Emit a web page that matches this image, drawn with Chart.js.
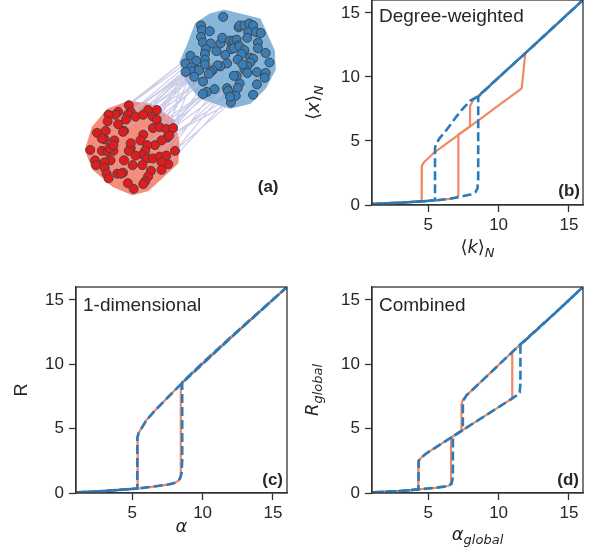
<!DOCTYPE html>
<html>
<head>
<meta charset="utf-8">
<script src="https://cdn.jsdelivr.net/npm/chart.js@4.4.1/dist/chart.umd.min.js"></script>
<style>
	body { margin: 0; background: #fff; width: 605px; height: 556px; overflow: hidden; }
	canvas { position: absolute; }
</style>
</head>
<body>
<canvas id="net" width="300" height="220" style="left:0;top:0"></canvas>
<canvas id="degree" width="305" height="280" style="left:300px;top:0"></canvas>
<canvas id="oned" width="300" height="276" style="left:0;top:280px"></canvas>
<canvas id="combined" width="305" height="276" style="left:300px;top:280px"></canvas>
<script>
// ---- panel (a): two-community network, layout positions
const redX = [128,130,127,135,117,114,107,106,117,125,123,122,95,104,103,100,113,148,143,153,157,157,153,160,167,174,168,162,170,143,140,155,147,145,142,147,153,160,167,176,169,162,162,151,148,145,143,133,127,122,116,120,132,123,130,128,130,135,142,109,103,103,105,107,93,94,88,100,106,112,108,112];
const redY = [105,112,115,117,112,115,115,122,125,120,132,133,134,132,141,140,142,110,115,117,110,120,129,128,130,129,139,142,137,136,142,147,147,153,157,161,161,159,158,153,167,165,173,174,180,185,188,193,187,176,177,177,168,163,150,153,145,158,168,163,165,171,177,182,163,168,152,153,154,153,150,147];
const blueX = [226,203,204,203,212,205,213,208,207,219,223,225,233,235,237,240,234,241,237,243,248,245,241,242,243,248,253,257,252,251,260,265,262,262,254,257,270,274,254,251,248,246,251,261,270,269,261,257,243,240,237,230,223,220,215,213,211,205,230,231,241,239,234,233,217,209,205,192,198,187,193,198,194,201,187,196,207,207,228];
const blueY = [12,21,26,33,27,39,40,46,51,48,40,34,37,42,37,36,46,42,45,43,47,51,57,23,21,21,19,21,28,34,28,29,39,45,55,56,50,60,60,64,67,62,71,70,71,76,83,94,82,74,74,61,64,63,68,70,72,80,87,90,87,95,102,96,88,91,93,53,58,61,65,68,69,68,70,75,57,62,52];
const redHullX = [128,150,173,178,177,160,147,132,113,92,85,92,107];
const redHullY = [103,106,122,143,165,181,193,197,189,171,152,129,111];
const blueHullX = [213,227,263,277,278,268,253,233,203,189,183,191,199];
const blueHullY = [11,7,16,48,67,86,101,106,96,78,60,42,20];
// [red node, blue node]
const bridges = [[0,67],[0,69],[1,74],[4,67],[3,72],[17,70],[17,75],[18,68],[19,73],[20,71],[20,76],[21,74],[21,57],[22,66],[22,55],[23,65],[23,77],[24,64],[24,72],[25,58],[25,54],[26,63],[26,69],[28,62],[28,75],[39,62],[39,58],[40,63],[38,64],[3,8],[1,7],[19,52],[22,70],[24,66],[18,57],[2,76],[9,68],[29,74],[27,65],[32,66],[36,58],[41,62],[5,69],[10,71]];

// ---- panel (b): degree-weighted
const degBlueUpK = [1, 3, 4.5, 5.5, 6.5, 7.2, 8, 8.35, 8.5, 8.55, 8.55, 10, 12, 14, 16];
const degBlueUpX = [0.08, 0.18, 0.28, 0.36, 0.48, 0.62, 0.82, 1.0, 1.3, 2.0, 8.45, 9.95, 11.95, 13.97, 16];
const degBlueDownK = [16, 12, 8.5, 8.0, 7.4, 7.0, 6.3, 5.8, 5.55, 5.48, 5.48, 4.5, 3, 1];
const degBlueDownX = [16, 11.95, 8.45, 8.15, 7.45, 6.9, 5.86, 5.2, 4.75, 4.45, 0.36, 0.28, 0.18, 0.08];
const degOrangeUpK = [1, 3, 4.5, 5.5, 6.5, 7.0, 7.14, 7.14, 8, 9, 10, 11, 11.64, 11.9, 14, 16];
const degOrangeUpX = [0.08, 0.18, 0.28, 0.36, 0.48, 0.6, 0.75, 5.5, 6.16, 6.96, 7.77, 8.58, 9.1, 11.85, 13.97, 16];
const degOrangeDownK = [16, 12, 8.5, 8.2, 7.97, 7.97, 7, 6, 5.36, 5.0, 4.7, 4.55, 4.53, 3, 1];
const degOrangeDownX = [16, 11.95, 8.45, 8.2, 7.73, 6.14, 5.36, 4.56, 4.04, 3.65, 3.35, 3.07, 0.28, 0.18, 0.08];

// ---- panel (c): 1-dimensional reduction
const oneBlueUpA = [1, 3, 5.4, 6.5, 7.5, 7.95, 8.38, 8.5, 8.55, 8.55, 10, 12, 14, 16];
const oneBlueUpR = [0.05, 0.15, 0.35, 0.5, 0.65, 0.76, 1.09, 1.5, 2.5, 8.6, 10.1, 12.1, 14.05, 16];
const oneBlueDownA = [16, 12, 8.5, 7.5, 6.7, 6.0, 5.74, 5.45, 5.36, 5.36, 3, 1];
const oneBlueDownR = [16, 12.05, 8.5, 7.4, 6.5, 5.65, 5.18, 4.66, 4.3, 0.35, 0.15, 0.05];
const oneOrangeUpA = [1, 3, 5.4, 6.5, 7.5, 7.95, 8.3, 8.45, 8.45, 8.55, 10, 12, 14, 16];
const oneOrangeUpR = [0.05, 0.15, 0.35, 0.5, 0.65, 0.76, 0.95, 1.3, 8.3, 8.6, 10.1, 12.1, 14.05, 16];
const oneOrangeDownA = [16, 12, 8.5, 7.5, 6.7, 6.0, 5.74, 5.45, 5.38, 5.38, 3, 1];
const oneOrangeDownR = [16, 12.05, 8.5, 7.4, 6.5, 5.65, 5.18, 4.66, 4.3, 0.35, 0.15, 0.05];

// ---- panel (d): combined
const comBlueUpA = [1, 3, 4.3, 5.5, 6.4, 6.65, 6.75, 6.75, 9, 11.3, 11.5, 11.55, 11.55, 14, 16];
const comBlueUpR = [0.05, 0.15, 0.28, 0.4, 0.54, 0.7, 1.2, 4.4, 5.97, 7.58, 7.8, 8.5, 11.5, 13.96, 16];
const comBlueDownA = [16, 14, 11.52, 9, 7.73, 7.5, 7.46, 7.46, 6, 4.9, 4.5, 4.32, 4.3, 3, 1];
const comBlueDownR = [16, 13.96, 11.52, 8.9, 7.6, 7.2, 6.9, 4.89, 3.87, 3.1, 2.75, 2.5, 0.28, 0.15, 0.05];
const comOrangeUpA = [1, 3, 4.3, 5.5, 6.4, 6.55, 6.62, 6.62, 9, 10.97, 10.97, 14, 16];
const comOrangeUpR = [0.05, 0.15, 0.28, 0.4, 0.54, 0.65, 0.9, 4.3, 5.97, 7.35, 10.95, 13.96, 16];
const comOrangeDownA = [16, 14, 10.97, 9, 7.73, 7.45, 7.36, 7.36, 6, 4.9, 4.5, 4.32, 4.29, 3, 1];
const comOrangeDownR = [16, 13.96, 10.95, 8.9, 7.6, 7.2, 6.9, 4.83, 3.87, 3.1, 2.75, 2.5, 0.28, 0.15, 0.05];

const ORANGE = '#ef8a62';
const BLUE = '#2b7bba';
const INK = '#262626';
const SANS = '"Liberation Sans", Arial, sans-serif';
const MATH = '"DejaVu Sans", sans-serif';

Chart.defaults.animation = false;
Chart.defaults.font.family = SANS;

function pts(xs, ys) {
	return xs.map((x, i) => ({x: x, y: ys[i]}));
}

// draws text made of [text, style] pieces; style n=normal i=italic s=italic subscript t=plain sans
function drawRich(ctx, parts, x, y, align) {
	let fonts = { n: '18px ' + MATH, i: 'italic 18px ' + MATH, s: 'italic 13px ' + MATH, t: '18px ' + SANS };
	let total = 0;
	parts.forEach(p => { ctx.font = fonts[p[1]]; total += ctx.measureText(p[0]).width; });
	let cx = align === 'center' ? x - total / 2 : x;
	ctx.textAlign = 'left';
	ctx.textBaseline = 'alphabetic';
	parts.forEach(p => {
		ctx.font = fonts[p[1]];
		ctx.fillText(p[0], cx, y + (p[1] === 's' ? 4 : 0));
		cx += ctx.measureText(p[0]).width;
	});
}

const panelText = {
	id: 'panelText',
	afterDatasetsDraw(chart, args, opts) {
		let ctx = chart.ctx;
		let a = chart.chartArea;
		ctx.save();
		if (opts.frame) {
			ctx.strokeStyle = '#333';
			ctx.lineWidth = 1.3;
			ctx.strokeRect(a.left, a.top, a.right - a.left, a.bottom - a.top);
		}
		ctx.fillStyle = INK;
		if (opts.name) {
			ctx.font = '19px ' + SANS;
			ctx.textAlign = 'left';
			ctx.fillText(opts.name, a.left + 7, a.top + opts.nameDy);
		}
		ctx.font = 'bold 17px ' + SANS;
		ctx.textAlign = 'right';
		ctx.fillText(opts.letter, a.right - opts.letterDx, a.bottom - opts.letterDy);
		if (opts.xTitle) {
			drawRich(ctx, opts.xTitle, (a.left + a.right) / 2, a.bottom + opts.xTitleDy, 'center');
		}
		if (opts.yTitle) {
			ctx.translate(a.left - opts.yTitleDx, (a.top + a.bottom) / 2);
			ctx.rotate(-Math.PI / 2);
			drawRich(ctx, opts.yTitle, 0, 0, 'center');
		}
		ctx.restore();
	}
};

// hull shading behind each community, drawn through the chart scales
const hullFill = {
	id: 'hullFill',
	beforeDatasetsDraw(chart) {
		let ctx = chart.ctx;
		let sx = chart.scales.x, sy = chart.scales.y;
		let hulls = [[redHullX, redHullY, '#f88c7c'], [blueHullX, blueHullY, '#86b6da']];
		ctx.save();
		hulls.forEach(h => {
			ctx.beginPath();
			h[0].forEach((v, i) => {
				let px = sx.getPixelForValue(v), py = sy.getPixelForValue(h[1][i]);
				if (i === 0) ctx.moveTo(px, py); else ctx.lineTo(px, py);
			});
			ctx.closePath();
			ctx.fillStyle = h[2];
			ctx.strokeStyle = h[2];
			ctx.lineWidth = 5;
			ctx.lineJoin = 'round';
			ctx.fill();
			ctx.stroke();
		});
		ctx.restore();
	}
};

function createNetwork(context) {
	let bridgePts = [];
	bridges.forEach(e => {
		bridgePts.push({x: redX[e[0]], y: redY[e[0]]});
		bridgePts.push({x: blueX[e[1]], y: blueY[e[1]]});
		bridgePts.push({x: NaN, y: NaN});
	});
	let config = {
		type: 'scatter',
		data: {
			datasets: [{
				data: pts(redX, redY),
				backgroundColor: '#e41a1c',
				borderColor: '#444',
				borderWidth: 1,
				pointRadius: 4.5,
				order: 0
			}, {
				data: pts(blueX, blueY),
				backgroundColor: '#377eb8',
				borderColor: '#444',
				borderWidth: 1,
				pointRadius: 4.5,
				order: 0
			}, {
				data: bridgePts,
				showLine: true,
				spanGaps: false,
				borderColor: 'rgba(185,185,225,0.7)',
				borderWidth: 1.2,
				pointRadius: 0,
				order: 1
			}]
		},
		options: {
			responsive: false,
			layout: { padding: 0 },
			plugins: {
				legend: { display: false },
				tooltip: { enabled: false },
				panelText: { letter: '(a)', letterDx: 16, letterDy: 23 }
			},
			scales: {
				x: { display: false, min: 0, max: 300 },
				y: { display: false, min: 0, max: 220, reverse: true }
			}
		},
		plugins: [hullFill, panelText]
	};
	return new Chart(context, config);
}

function axisConfig(min, max, tickValues, isX, size) {
	return {
		type: 'linear',
		min: min,
		max: max,
		afterBuildTicks: s => { s.ticks = tickValues.map(v => ({value: v})); },
		afterFit: s => {
			if (isX) s.height = size; else s.width = size;
			s.paddingTop = 0; s.paddingBottom = 0; s.paddingLeft = 0; s.paddingRight = 0;
		},
		grid: { drawOnChartArea: false, drawTicks: true, tickLength: 7, tickWidth: 1.3, tickColor: '#333' },
		border: { display: true, color: '#333', width: 1.3 },
		ticks: { color: INK, font: { size: 17, family: SANS }, padding: isX ? 3 : 5, maxRotation: 0 }
	};
}

function lineSet(xs, ys, color, dashed) {
	return {
		data: pts(xs, ys),
		showLine: true,
		borderColor: color,
		borderWidth: dashed ? 2.6 : 2.2,
		borderDash: dashed ? [9, 4] : [],
		pointRadius: 0,
		tension: 0,
		order: dashed ? 0 : 1
	};
}

function createPanel(context, sets, pad, yWidth, xHeight, text) {
	let config = {
		type: 'scatter',
		data: { datasets: sets },
		options: {
			responsive: false,
			layout: { padding: pad },
			plugins: {
				legend: { display: false },
				tooltip: { enabled: false },
				panelText: text
			},
			scales: {
				x: axisConfig(1, 16, [5, 10, 15], true, xHeight),
				y: axisConfig(0, 16, [0, 5, 10, 15], false, yWidth)
			}
		},
		plugins: [panelText]
	};
	return new Chart(context, config);
}

document.addEventListener('DOMContentLoaded', () => {
	createNetwork(document.getElementById('net').getContext('2d'));

	createPanel(document.getElementById('degree').getContext('2d'), [
		lineSet(degOrangeUpK, degOrangeUpX, ORANGE, false),
		lineSet(degOrangeDownK, degOrangeDownX, ORANGE, false),
		lineSet(degBlueUpK, degBlueUpX, BLUE, true),
		lineSet(degBlueDownK, degBlueDownX, BLUE, true)
	], { top: 0, right: 22, bottom: 0, left: 0 }, 72, 75, {
		frame: true, name: 'Degree-weighted', nameDy: 22, letter: '(b)', letterDx: 3, letterDy: 9,
		xTitle: [['⟨', 'n'], ['k', 'i'], ['⟩', 'n'], ['N', 's']], xTitleDy: 48,
		yTitle: [['⟨', 'n'], ['x', 'i'], ['⟩', 'n'], ['N', 's']], yTitleDx: 53
	});

	createPanel(document.getElementById('oned').getContext('2d'), [
		lineSet(oneOrangeUpA, oneOrangeUpR, ORANGE, false),
		lineSet(oneOrangeDownA, oneOrangeDownR, ORANGE, false),
		lineSet(oneBlueUpA, oneBlueUpR, BLUE, true),
		lineSet(oneBlueDownA, oneBlueDownR, BLUE, true)
	], { top: 7, right: 13, bottom: 0, left: 0 }, 76, 63, {
		frame: true, name: '1-dimensional', nameDy: 24, letter: '(c)', letterDx: 4, letterDy: 8,
		xTitle: [['α', 'i']], xTitleDy: 39,
		yTitle: [['R', 't']], yTitleDx: 49
	});

	createPanel(document.getElementById('combined').getContext('2d'), [
		lineSet(comOrangeUpA, comOrangeUpR, ORANGE, false),
		lineSet(comOrangeDownA, comOrangeDownR, ORANGE, false),
		lineSet(comBlueUpA, comBlueUpR, BLUE, true),
		lineSet(comBlueDownA, comBlueDownR, BLUE, true)
	], { top: 7, right: 22, bottom: 0, left: 0 }, 72, 63, {
		frame: true, name: 'Combined', nameDy: 24, letter: '(d)', letterDx: 4, letterDy: 8,
		xTitle: [['α', 'i'], ['global', 's']], xTitleDy: 47,
		yTitle: [['R', 'i'], ['global', 's']], yTitleDx: 54
	});
});
</script>
</body>
</html>
